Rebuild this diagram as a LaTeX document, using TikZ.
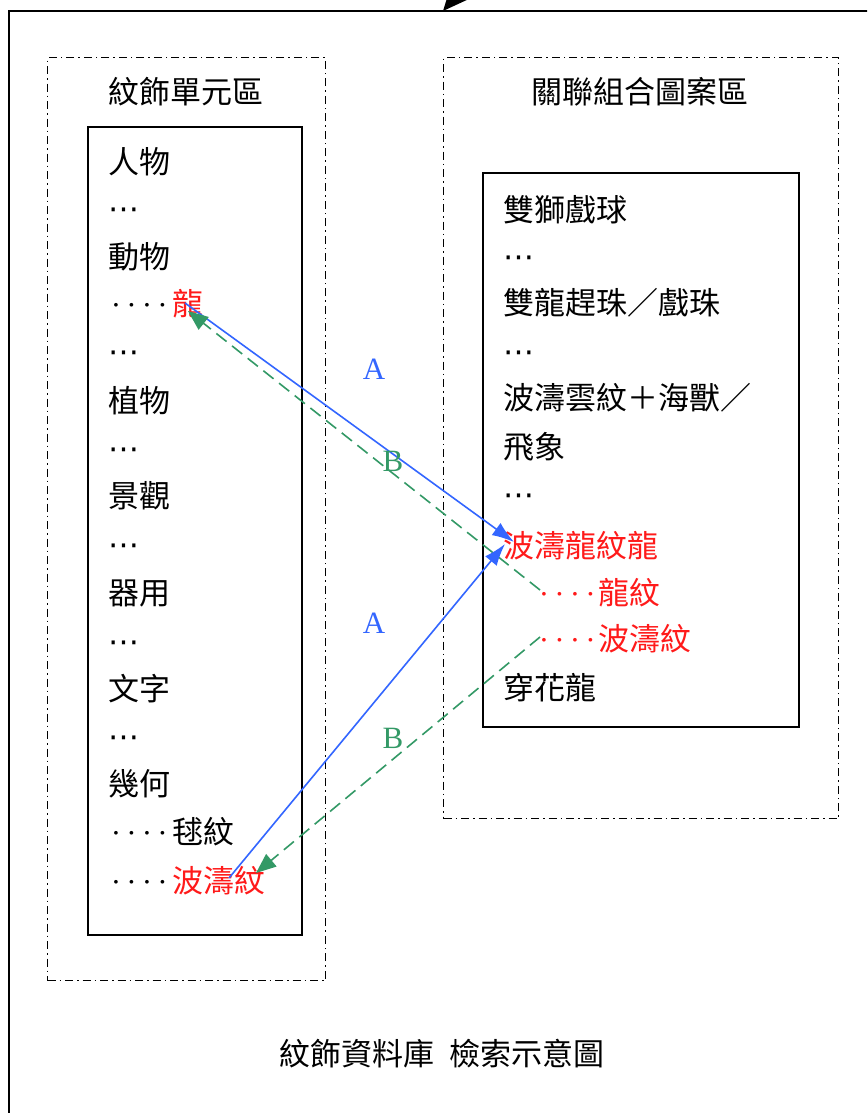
\documentclass[tikz,border=0pt]{standalone}
\usepackage{fontspec}
\setmainfont{Liberation Serif}
\newfontfamily\cjk{Noto Sans CJK TC}
\newfontfamily\symf{DejaVu Sans}
\usetikzlibrary{arrows.meta}
\definecolor{lblue}{HTML}{3366FF}
\definecolor{lgreen}{HTML}{339966}
\definecolor{lred}{HTML}{FF1A1A}
\newcommand{\fourdots}{\makebox[0.5em]{·}\makebox[0.5em]{·}\makebox[0.5em]{·}\makebox[0.5em]{·}}
\newcommand{\myell}{{\symf ⋯}}
\begin{document}
\begin{tikzpicture}[x=1pt,y=-1pt,
  every node/.style={inner sep=0pt},
  item/.style={anchor=base west, font=\cjk\fontsize{31}{31}\selectfont},
  redtxt/.style={item, text=lred},
  dotsr/.style={item, font=\rmfamily\fontsize{31}{31}\selectfont},
  title/.style={anchor=base, font=\cjk\fontsize{31}{31}\selectfont},
  lab/.style={font=\rmfamily\fontsize{31}{31}\selectfont},
  zone/.style={draw=black, line width=1.4pt, dash pattern=on 8pt off 4pt on 1.5pt off 4pt},
  listbox/.style={draw=black, line width=1.6pt},
  linkA/.style={draw=lblue, line width=1.6pt, -{Latex[length=22pt,width=15pt]}},
  linkB/.style={draw=lgreen, line width=1.6pt, dash pattern=on 13pt off 7pt, -{Triangle[length=20pt,width=16pt]}}
]
\useasboundingbox (0,0) rectangle (867,1113);
\clip (0,0) rectangle (867,1113);
\fill[white] (0,0) rectangle (867,1113);

% outer frame and the incoming arrow
\draw[line width=2pt] (9,1130) -- (9,11) -- (880,11);
\coordinate (topsrc) at (540,-100);
\coordinate (toptip) at (443,11);
\draw[line width=2pt, -{Triangle[length=32pt,width=28pt]}] (topsrc) -- (toptip);

% zones
\node[zone, minimum width=278pt, minimum height=923pt, anchor=north west] (zl) at (47,57) {};
\node[zone, minimum width=395pt, minimum height=761pt, anchor=north west] (zr) at (443,57) {};
\node[title] (tl) at (186,104) {紋飾單元區};
\node[title] (tr) at (640,104) {關聯組合圖案區};

% list boxes
\node[listbox, minimum width=214pt, minimum height=808pt, anchor=north west] (bl) at (87,126) {};
\node[listbox, minimum width=316pt, minimum height=554pt, anchor=north west] (br) at (482,172) {};

% left list
\node[item] (l1) at (108,173) {人物};
\node[item] (l2) at (108,219) {\myell};
\node[item] (l3) at (108,268) {動物};
\node[dotsr] (l4d) at (108,315) {\fourdots};
\node[redtxt] (l4) at (172,315) {龍};
\node[item] (l5) at (108,362) {\myell};
\node[item] (l6) at (108,412) {植物};
\node[item] (l7) at (108,459) {\myell};
\node[item] (l8) at (108,507) {景觀};
\node[item] (l9) at (108,555) {\myell};
\node[item] (l10) at (108,604) {器用};
\node[item] (l11) at (108,652) {\myell};
\node[item] (l12) at (108,700) {文字};
\node[item] (l13) at (108,747) {\myell};
\node[item] (l14) at (108,795) {幾何};
\node[dotsr] (l15d) at (108,843) {\fourdots};
\node[item] (l15) at (172,843) {毬紋};
\node[dotsr] (l16d) at (108,892) {\fourdots};
\node[redtxt] (l16) at (172,892) {波濤紋};

% right list
\node[item] (r1) at (503,221) {雙獅戲球};
\node[item] (r2) at (503,267) {\myell};
\node[item] (r3) at (503,314) {雙龍趕珠／戲珠};
\node[item] (r4) at (503,362) {\myell};
\node[item] (r5) at (503,409) {波濤雲紋＋海獸／};
\node[item] (r6) at (503,458) {飛象};
\node[item] (r7) at (503,505) {\myell};
\node[redtxt] (r8) at (503,557) {波濤龍紋龍};
\node[dotsr, text=lred] (r9d) at (536,604) {\fourdots};
\node[redtxt] (r9) at (598,604) {龍紋};
\node[dotsr, text=lred] (r10d) at (536,650) {\fourdots};
\node[redtxt] (r10) at (598,650) {波濤紋};
\node[item] (r11) at (503,699) {穿花龍};

% connector end points
\coordinate (a1s) at (185,303);
\coordinate (a1e) at (514,542);
\coordinate (a2s) at (229,878);
\coordinate (a2e) at (505,544);
\coordinate (b1s) at (540,590);
\coordinate (b1e) at (188,311);
\coordinate (b2s) at (540,637);
\coordinate (b2e) at (256,873);

\draw[linkA] (a1s) -- (a1e);
\draw[linkB] (b1s) -- (b1e);
\draw[linkA] (a2s) -- (a2e);
\draw[linkB] (b2s) -- (b2e);

\node[lab, text=lblue] (la1) at (374,369) {A};
\node[lab, text=lgreen] (lb1) at (393,461) {B};
\node[lab, text=lblue] (la2) at (374,623) {A};
\node[lab, text=lgreen] (lb2) at (393,738) {B};

% caption
\node[title] (cap) at (442,1065) {紋飾資料庫\hspace{0.5em}檢索示意圖};
\end{tikzpicture}
\end{document}
